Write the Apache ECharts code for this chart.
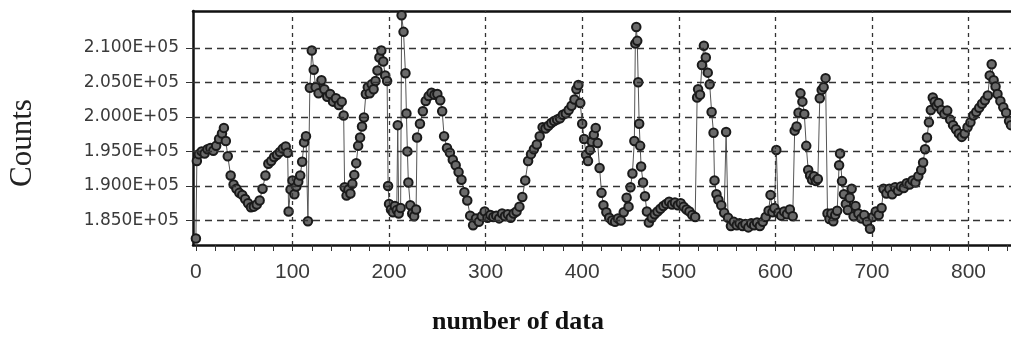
<!DOCTYPE html>
<html>
<head>
<meta charset="utf-8">
<script src="https://cdn.jsdelivr.net/npm/echarts@6/dist/echarts.min.js"></script>
<style>
html,body{margin:0;padding:0;background:#fff;}
#chart{width:1011px;height:347px;}
</style>
</head>
<body>
<div id="chart"></div>
<script>
// ---- data ----
const sampleNo = [
0,1,3,6,9,12,15,18,21,24,27,29,31,33,36,39,42,45,48,51,54,57,60,63,66,69,72,75,78,81,84,87,90,93,95,
96,98,100,102,104,106,108,110,112,114,116,118,120,122,124,127,130,133,136,139,142,145,148,151,153,
154,156,158,160,162,164,166,168,170,172,174,176,178,180,182,184,186,188,190,192,194,196,198,
199,200,202,204,206,208,209,210,212,213,215,217,218,219,220,222,224,226,228,
229,232,235,238,241,244,247,250,253,255,257,260,263,266,269,272,275,278,281,284,287,290,293,296,299,
302,305,308,311,314,317,320,323,326,329,332,335,338,341,344,347,350,353,356,359,362,365,368,371,374,
377,380,383,386,389,392,394,396,398,400,402,404,406,408,410,412,414,416,418,420,422,425,428,431,434,
437,440,443,446,448,450,452,454,455,456,457,458,459,460,461,463,465,467,469,472,475,478,481,484,487,
490,493,496,499,502,505,508,511,514,517,519,520,522,524,526,528,530,532,534,536,537,539,541,544,547,
549,551,554,557,560,563,566,569,572,575,578,581,584,587,590,593,595,597,599,601,603,606,609,612,615,
618,620,622,624,626,628,630,632,634,636,638,640,642,644,646,648,650,652,654,656,658,660,662,664,666,
667,669,671,673,675,677,679,681,683,686,689,692,695,698,701,704,707,710,712,715,718,721,724,727,730,
733,736,739,742,745,748,751,753,755,757,759,761,763,765,767,769,772,775,778,781,784,787,790,793,796,
799,802,805,808,811,814,817,820,822,824,826,828,830,833,836,839,842,844
];
const counts = [
182400,193600,194600,195000,194700,195300,195500,195100,195800,196800,197600,198400,196500,194300,191500,190200,189600,189000,188700,188100,187500,186900,187000,187300,187900,189600,191500,193200,193600,194200,194500,194900,195400,195700,194800,
186300,189500,190800,188800,189900,190600,191500,193500,196300,197200,184900,204200,209600,206800,204300,203400,205300,204000,202900,203300,202200,202700,201700,202200,200200,
189800,188600,189500,188900,190300,191600,193300,195800,197000,198600,199900,203300,204300,203400,204700,204000,205200,206700,208600,209600,208000,206000,205200,
190000,187400,186600,186200,187100,186500,198800,186000,186800,214700,212300,206300,200500,195000,190500,187200,186000,185600,186600,
197000,199000,200800,202300,203000,203500,203200,203300,202400,200800,197200,195500,194800,193800,193000,192000,190900,189100,187900,185700,184300,185300,184800,185600,186300,
185400,185800,185500,185700,185300,186000,185600,185900,185400,186000,186300,187000,188400,190800,193600,194600,195300,196000,197200,198500,198300,198700,199100,199400,199600,
199800,200300,200500,201000,201600,202500,204000,204600,202000,199000,196800,194500,193600,195200,196400,197400,198400,196200,192600,189000,187200,186200,185400,185000,184800,
185300,185000,186200,188300,187000,189800,191800,196500,210600,213000,211000,205000,199000,195800,192800,190500,188500,186300,184700,185400,185900,186300,186700,187100,187400,
187700,187300,187600,187200,187500,187000,186600,186300,185800,185500,202800,204000,203200,207500,210300,208600,206400,204700,200700,197700,190800,188800,188000,187200,186100,
197800,185400,184200,184800,184300,184600,184200,184500,184000,184600,184300,184700,184200,184800,185500,186400,188700,186200,186800,195200,186100,185700,186300,185900,186600,
185600,198000,198600,200600,203400,202200,200400,195800,192300,191500,190900,191400,190700,191000,202700,203900,204300,205600,186000,185200,186000,184900,185800,186400,193000,
194700,190700,188800,187400,186500,188300,189600,185600,187100,186000,185300,185800,184800,183800,185500,186300,185800,186800,189600,188900,189600,188800,189800,189300,189900,
189700,190400,190200,190800,190500,191400,192300,193400,195300,197000,199200,201000,202800,202200,201600,202000,201000,200400,200900,199600,198800,198200,197600,197100,197600,
198500,199200,200200,200700,201300,201900,202400,203100,206000,207600,205300,204400,203300,202300,201400,200600,199400,198800
];
const xTickValues = [0,100,200,300,400,500,600,700,800];
const yTickValues = [185000,190000,195000,200000,205000,210000];
const xLabelText = 'number of data';
const yLabelText = 'Counts';

const xMinor = [];
for (let v = 0; v <= 840; v += 20) xMinor.push(v);

const points = sampleNo.map((x, i) => [x, counts[i]]);

const chart = echarts.init(document.getElementById('chart'), null, {renderer: 'canvas'});
const gridDash = {color: '#333', width: 1.3, type: [7, 5]};
const vDash = {color: '#333', width: 1.3, type: [4, 4]};

chart.setOption({
  animation: false,
  backgroundColor: '#ffffff',
  grid: {left: 193, right: 0, top: 11, bottom: 102, containLabel: false},
  xAxis: [{
    type: 'value', min: -3, max: 844, position: 'bottom',
    axisLine: {show: true, onZero: false, lineStyle: {color: '#111', width: 2.5}},
    axisTick: {show: true, customValues: xMinor, length: 6, lineStyle: {color: '#333', width: 1}},
    axisLabel: {show: true, customValues: xTickValues, margin: 17, fontFamily: 'Liberation Sans', fontSize: 21, color: '#3a3a3a'},
    splitLine: {show: false}
  }, {
    type: 'value', min: -3, max: 844, position: 'top',
    axisLine: {show: true, onZero: false, lineStyle: {color: '#111', width: 2.5}},
    axisTick: {show: false}, axisLabel: {show: false}, splitLine: {show: false}
  }],
  yAxis: {
    type: 'value', min: 181450, max: 215320,
    axisLine: {show: true, onZero: false, lineStyle: {color: '#111', width: 2.5}},
    axisTick: {show: true, customValues: yTickValues, length: 7, lineStyle: {color: '#333', width: 1}},
    axisLabel: {show: true, customValues: yTickValues, margin: 14, fontFamily: 'DejaVu Sans', fontSize: 17, color: '#3a3a3a',
      formatter: v => (v / 100000).toFixed(3) + 'E+05'},
    splitLine: {show: false}
  },
  graphic: [{
    type: 'text', x: 23, y: 143, rotation: Math.PI / 2,
    style: {text: yLabelText, font: '31px "Liberation Serif"', fill: '#222', textAlign: 'center', textVerticalAlign: 'middle'}
  }, {
    type: 'text', x: 518, y: 322,
    style: {text: xLabelText, font: 'bold 26px "Liberation Serif"', fill: '#111', textAlign: 'center', textVerticalAlign: 'middle'}
  }],
  series: [{
    type: 'line',
    xAxisIndex: 0,
    data: points,
    showSymbol: true, showAllSymbol: true,
    symbol: 'circle', symbolSize: 8.5,
    lineStyle: {color: '#555', width: 1},
    itemStyle: {color: '#6a6a6a', borderColor: '#1a1a1a', borderWidth: 2},
    markLine: {
      silent: true, symbol: ['none', 'none'], label: {show: false},
      data: yTickValues.map(v => ({yAxis: v, lineStyle: gridDash}))
        .concat(xTickValues.filter(v => v > 0).map(v => ({xAxis: v, lineStyle: vDash})))
    }
  }]
});
</script>
</body>
</html>
